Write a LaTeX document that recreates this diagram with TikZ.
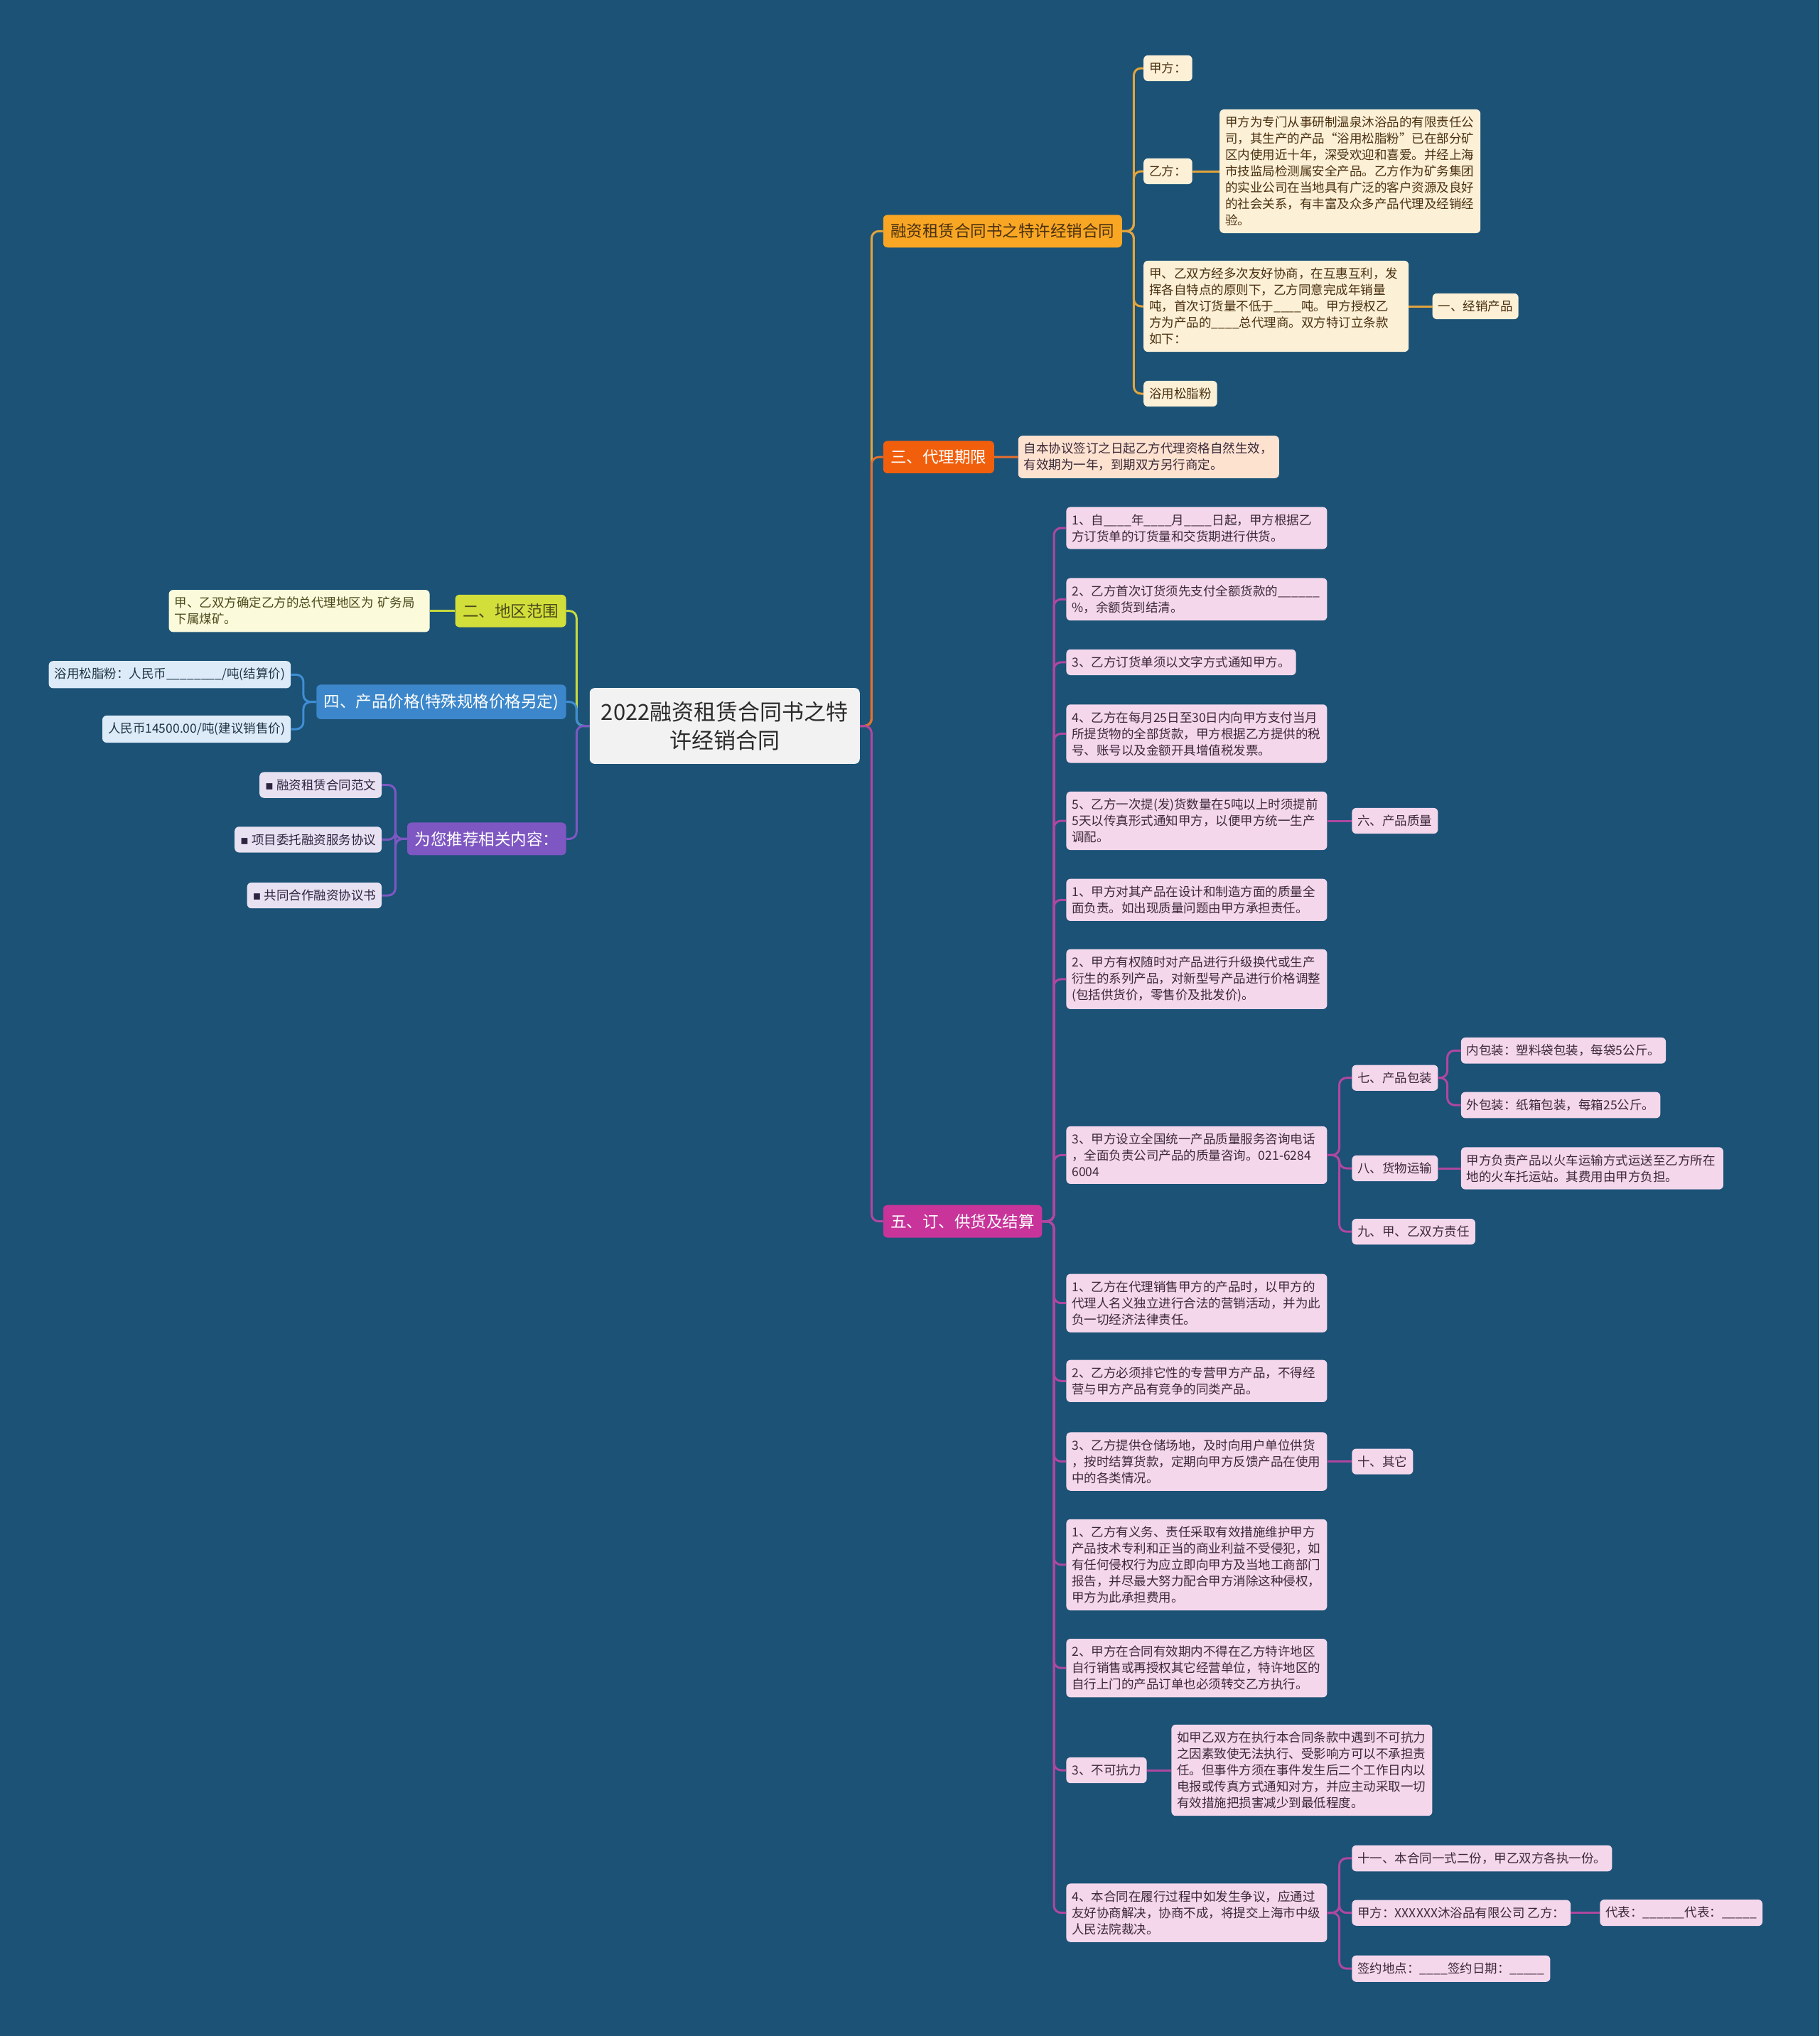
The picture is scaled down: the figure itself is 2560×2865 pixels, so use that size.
\documentclass[tikz,border=0pt]{standalone}
\usepackage{fontspec}
\setmainfont{Noto Sans CJK SC}
\newfontfamily\symfnt{DejaVu Sans}
\usetikzlibrary{positioning}

\definecolor{BgBlue}     {HTML}{1B5276}
\definecolor{RootGray}   {HTML}{F2F2F2}
\definecolor{RootText}   {HTML}{2A2A2A}
\definecolor{GoldBranch} {HTML}{F8A623}
\definecolor{GoldLine}   {HTML}{E3A43B}
\definecolor{GoldLeaf}   {HTML}{FCF0D6}
\definecolor{GoldText}   {HTML}{4A3010}
\definecolor{FlameBranch}{HTML}{F25F0C}
\definecolor{FlameLine}  {HTML}{E5702E}
\definecolor{FlameLeaf}  {HTML}{FDE2D0}
\definecolor{BerryBranch}{HTML}{C8349A}
\definecolor{BerryLine}  {HTML}{B0479F}
\definecolor{BerryLeaf}  {HTML}{F5D7EC}
\definecolor{BerryText}  {HTML}{3B2838}
\definecolor{LimeBranch} {HTML}{D2DF3A}
\definecolor{LimeLine}   {HTML}{C8DA3C}
\definecolor{LimeLeaf}   {HTML}{FBFADB}
\definecolor{LimeText}   {HTML}{4B4A1A}
\definecolor{SkyBranch}  {HTML}{3C87CB}
\definecolor{SkyLine}    {HTML}{3F8ED4}
\definecolor{SkyLeaf}    {HTML}{DDEBF8}
\definecolor{SkyText}    {HTML}{1E3446}
\definecolor{GrapeBranch}{HTML}{7E57C2}
\definecolor{GrapeLine}  {HTML}{7E57C2}
\definecolor{GrapeLeaf}  {HTML}{E8E1F2}
\definecolor{GrapeText}  {HTML}{2E2440}

\newcommand\rootfnt{\fontsize{31}{40}\selectfont}
\newcommand\branchfnt{\fontsize{22.5}{28}\selectfont}
\newcommand\leaffnt{\fontsize{17.5}{23}\selectfont}
\newcommand\bul{{\symfnt\char"25AA}\ }

\begin{document}
\begin{tikzpicture}[
  x=1pt, y=-1pt,
  box/.style={
    rounded corners=6pt, inner xsep=8pt, inner ysep=10pt,
    font=\leaffnt, align=left},
  branch/.style={
    rounded corners=6pt, inner xsep=10.5pt, inner ysep=12.5pt,
    font=\branchfnt, text=white},
  wide/.style={text width=#1pt},
  link/.style={line width=3pt, rounded corners=10pt},
  goldleaf/.style={box, fill=GoldLeaf, text=GoldText, anchor=west},
  flameleaf/.style={box, fill=FlameLeaf, text=BerryText, anchor=west},
  berryleaf/.style={box, fill=BerryLeaf, text=BerryText, anchor=west},
  limeleaf/.style={box, fill=LimeLeaf, text=LimeText, anchor=east},
  skyleaf/.style={box, fill=SkyLeaf, text=SkyText, anchor=east},
  grapeleaf/.style={box, fill=GrapeLeaf, text=GrapeText, anchor=east}
]
\useasboundingbox (0,0) rectangle (2560,2865);
\fill[BgBlue] (0,0) rectangle (2560,2865);

% centre
\node[rounded corners=7pt, fill=RootGray,
  text=RootText, font=\rootfnt, align=center, text width=360pt,
  inner xsep=10pt, inner ysep=19pt, anchor=west]
  (root) at (829.6,1021.5) {2022融资租赁合同书之特\\许经销合同};

% main branches
\node[branch, fill=GoldBranch, text=GoldText, anchor=west]
  (agency) at (1242.6,325.3) {融资租赁合同书之特许经销合同};
\node[branch, fill=FlameBranch, anchor=west]
  (term) at (1242.6,643.2) {三、代理期限};
\node[branch, fill=BerryBranch, anchor=west]
  (supply) at (1242.6,1718.6) {五、订、供货及结算};
\node[branch, fill=LimeBranch, text=LimeText, anchor=east]
  (region) at (796.7,859.7) {二、地区范围};
\node[branch, fill=SkyBranch, anchor=east]
  (price) at (796.7,987.7) {四、产品价格(特殊规格价格另定)};
\node[branch, fill=GrapeBranch, anchor=east]
  (recommend) at (796.7,1180.4) {为您推荐相关内容：};

% party and product
\node[goldleaf] (partyA) at (1609,96) {甲方：};
\node[goldleaf] (partyB) at (1609,241) {乙方：};
\node[goldleaf, wide=351] (partyBinfo) at (1716,241)
  {甲方为专门从事研制温泉沐浴品的有限责任公\\
   司，其生产的产品“浴用松脂粉”已在部分矿\\
   区内使用近十年，深受欢迎和喜爱。并经上海\\
   市技监局检测属安全产品。乙方作为矿务集团\\
   的实业公司在当地具有广泛的客户资源及良好\\
   的社会关系，有丰富及众多产品代理及经销经\\
   验。};
\node[goldleaf, wide=357] (consult) at (1609,431)
  {甲、乙双方经多次友好协商，在互惠互利，发\\
   挥各自特点的原则下，乙方同意完成年销量\\
   吨，首次订货量不低于\_\_\_\_吨。甲方授权乙\\
   方为产品的\_\_\_\_总代理商。双方特订立条款\\
   如下：};
\node[goldleaf] (product1) at (2015.5,431) {一、经销产品};
\node[goldleaf] (soap) at (1609,554) {浴用松脂粉};

\node[flameleaf, wide=351] (termInfo) at (1432.6,643)
  {自本协议签订之日起乙方代理资格自然生效，\\
   有效期为一年，到期双方另行商定。};

% supply and settlement
\node[berryleaf, wide=351] (s1) at (1500.2,743)
  {1、自\_\_\_\_年\_\_\_\_月\_\_\_\_日起，甲方根据乙\\
   方订货单的订货量和交货期进行供货。};
\node[berryleaf, wide=351] (s2) at (1500.2,843.3)
  {2、乙方首次订货须先支付全额货款的\_\_\_\_\_\_\\
   \%，余额货到结清。};
\node[berryleaf] (s3) at (1500.2,931.9)
  {3、乙方订货单须以文字方式通知甲方。};
\node[berryleaf, wide=351] (s4) at (1500.2,1032.4)
  {4、乙方在每月25日至30日内向甲方支付当月\\
   所提货物的全部货款，甲方根据乙方提供的税\\
   号、账号以及金额开具增值税发票。};
\node[berryleaf, wide=351] (s5) at (1500.2,1155)
  {5、乙方一次提(发)货数量在5吨以上时须提前\\
   5天以传真形式通知甲方，以便甲方统一生产\\
   调配。};
\node[berryleaf, wide=351] (s6) at (1500.2,1266.3)
  {1、甲方对其产品在设计和制造方面的质量全\\
   面负责。如出现质量问题由甲方承担责任。};
\node[berryleaf, wide=351] (s7) at (1500.2,1377.8)
  {2、甲方有权随时对产品进行升级换代或生产\\
   衍生的系列产品，对新型号产品进行价格调整\\
   (包括供货价，零售价及批发价)。};
\node[berryleaf, wide=351] (s8) at (1500.2,1625.4)
  {3、甲方设立全国统一产品质量服务咨询电话\\
   ，全面负责公司产品的质量咨询。021-6284\\
   6004};
\node[berryleaf, wide=351] (s9) at (1500.2,1833.7)
  {1、乙方在代理销售甲方的产品时，以甲方的\\
   代理人名义独立进行合法的营销活动，并为此\\
   负一切经济法律责任。};
\node[berryleaf, wide=351] (s10) at (1500.2,1943.3)
  {2、乙方必须排它性的专营甲方产品，不得经\\
   营与甲方产品有竞争的同类产品。};
\node[berryleaf, wide=351] (s11) at (1500.2,2056.6)
  {3、乙方提供仓储场地，及时向用户单位供货\\
   ，按时结算货款，定期向甲方反馈产品在使用\\
   中的各类情况。};
\node[berryleaf, wide=351] (s12) at (1500.2,2201.9)
  {1、乙方有义务、责任采取有效措施维护甲方\\
   产品技术专利和正当的商业利益不受侵犯，如\\
   有任何侵权行为应立即向甲方及当地工商部门\\
   报告，并尽最大努力配合甲方消除这种侵权，\\
   甲方为此承担费用。};
\node[berryleaf, wide=351] (s13) at (1500.2,2347.2)
  {2、甲方在合同有效期内不得在乙方特许地区\\
   自行销售或再授权其它经营单位，特许地区的\\
   自行上门的产品订单也必须转交乙方执行。};
\node[berryleaf] (s14) at (1500.2,2491) {3、不可抗力};
\node[berryleaf, wide=351] (s15) at (1500.2,2691.6)
  {4、本合同在履行过程中如发生争议，应通过\\
   友好协商解决，协商不成，将提交上海市中级\\
   人民法院裁决。};

\node[berryleaf] (quality) at (1902.2,1155) {六、产品质量};
\node[berryleaf] (packing) at (1902.2,1516.7) {七、产品包装};
\node[berryleaf] (packIn) at (2055.7,1478.3)
  {内包装：塑料袋包装，每袋5公斤。};
\node[berryleaf] (packOut) at (2055.7,1555)
  {外包装：纸箱包装，每箱25公斤。};
\node[berryleaf] (transport) at (1902.2,1644) {八、货物运输};
\node[berryleaf, wide=353] (transInfo) at (2055.7,1644)
  {甲方负责产品以火车运输方式运送至乙方所在\\
   地的火车托运站。其费用由甲方负担。};
\node[berryleaf] (duty) at (1902.2,1733.2) {九、甲、乙双方责任};
\node[berryleaf] (other) at (1902.2,2056.6) {十、其它};
\node[berryleaf, wide=351] (forceInfo) at (1648.2,2491)
  {如甲乙双方在执行本合同条款中遇到不可抗力\\
   之因素致使无法执行、受影响方可以不承担责\\
   任。但事件方须在事件发生后二个工作日内以\\
   电报或传真方式通知对方，并应主动采取一切\\
   有效措施把损害减少到最低程度。};
\node[berryleaf] (copies) at (1902.2,2614.9)
  {十一、本合同一式二份，甲乙双方各执一份。};
\node[berryleaf] (sign) at (1902.2,2691.6)
  {甲方：XXXXXX沐浴品有限公司 乙方：};
\node[berryleaf] (deputy) at (2251.2,2691.6)
  {代表：\_\_\_\_\_\_代表：\_\_\_\_\_};
\node[berryleaf] (place) at (1902.2,2770.2)
  {签约地点：\_\_\_\_签约日期：\_\_\_\_\_};

% left side
\node[limeleaf, wide=351] (regionInfo) at (604.8,859.7)
  {甲、乙双方确定乙方的总代理地区为 矿务局\\
   下属煤矿。};
\node[skyleaf] (priceA) at (409.3,949.3)
  {浴用松脂粉：人民币\_\_\_\_\_\_\_\_/吨(结算价)};
\node[skyleaf] (priceB) at (409.3,1026)
  {人民币14500.00/吨(建议销售价)};
\node[grapeleaf] (rec1) at (537.2,1104.6) {\bul 融资租赁合同范文};
\node[grapeleaf] (rec2) at (537.2,1181.4) {\bul 项目委托融资服务协议};
\node[grapeleaf] (rec3) at (537.2,1260) {\bul 共同合作融资协议书};

% connectors
\begin{scope}[on background layer/.try]
\draw[link, GoldLine] (root.east) -- ++(16.4,0) |- (agency.west);
\draw[link, FlameLine] (root.east) -- ++(16.4,0) |- (term.west);
\draw[link, BerryLine] (root.east) -- ++(16.4,0) |- (supply.west);
\draw[link, LimeLine] (root.west) -- ++(-18.3,0) |- (region.east);
\draw[link, SkyLine] (root.west) -- ++(-18.3,0) |- (price.east);
\draw[link, GrapeLine] (root.west) -- ++(-18.3,0) |- (recommend.east);

\foreach \n in {partyA, partyB, consult, soap}
  \draw[link, GoldLine] (agency.east) -- ++(16.4,0) |- (\n.west);
\draw[link, GoldLine] (partyB.east) -- (partyBinfo.west);
\draw[link, GoldLine] (consult.east) -- (product1.west);
\draw[link, FlameLine] (term.east) -- (termInfo.west);

\foreach \i in {1,...,15}
  \draw[link, BerryLine] (supply.east) -- ++(16.5,0) |- (s\i.west);
\draw[link, BerryLine] (s5.east) -- (quality.west);
\foreach \n in {packing, transport, duty}
  \draw[link, BerryLine] (s8.east) -- ++(17,0) |- (\n.west);
\foreach \n in {packIn, packOut}
  \draw[link, BerryLine] (packing.east) -- ++(13,0) |- (\n.west);
\draw[link, BerryLine] (transport.east) -- (transInfo.west);
\draw[link, BerryLine] (s11.east) -- (other.west);
\draw[link, BerryLine] (s14.east) -- (forceInfo.west);
\foreach \n in {copies, sign, place}
  \draw[link, BerryLine] (s15.east) -- ++(17,0) |- (\n.west);
\draw[link, BerryLine] (sign.east) -- (deputy.west);

\draw[link, LimeLine] (region.west) -- (regionInfo.east);
\foreach \n in {priceA, priceB}
  \draw[link, SkyLine] (price.west) -- ++(-18.2,0) |- (\n.east);
\foreach \n in {rec1, rec2, rec3}
  \draw[link, GrapeLine] (recommend.west) -- ++(-16.4,0) |- (\n.east);
\end{scope}
\end{tikzpicture}
\end{document}
